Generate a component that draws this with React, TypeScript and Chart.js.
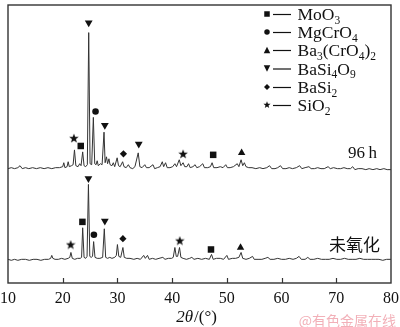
import React, { useEffect, useRef } from "react";
import { Chart, registerables } from "chart.js";

Chart.register(...registerables);

// ---------- data ----------
const xMin = 10;
const xMax = 80;
const xTickValues = [10, 20, 30, 40, 50, 60, 70, 80];
const yMin = 0;
const yMax = 282;

// 96 h oxidised sample (offset pattern, arbitrary intensity units)
const trace96h: [number, number][] = [
  [10.0, 116], [10.6, 117], [11.2, 116], [11.8, 117], [12.2, 119], [12.6, 116], [13.2, 117], [13.8, 116],
  [14.5, 117], [15.2, 116], [15.9, 117], [16.6, 116], [17.3, 117], [18.0, 116], [18.7, 117], [19.4, 117],
  [20.0, 118], [20.2, 122], [20.4, 117], [20.8, 118], [21.0, 123], [21.2, 118], [21.6, 119], [21.9, 120],
  [22.15, 135], [22.4, 119], [22.8, 118], [23.1, 121], [23.35, 119], [23.65, 133], [23.9, 119], [24.2, 118],
  [24.5, 120], [24.75, 254], [25.0, 121], [25.3, 120], [25.6, 168], [25.85, 121], [26.1, 120], [26.3, 124],
  [26.5, 119], [26.9, 121], [27.2, 120], [27.55, 153], [27.75, 122], [28.0, 128], [28.2, 121], [28.45, 126],
  [28.65, 120], [29.0, 119], [29.25, 122], [29.5, 118], [29.95, 127], [30.2, 119], [30.5, 118], [30.95, 123],
  [31.2, 118], [31.6, 117], [32.0, 120], [32.3, 117], [32.8, 116], [33.2, 118], [33.8, 132], [34.1, 118],
  [34.5, 117], [35.0, 120], [35.3, 117], [35.8, 117], [36.5, 120], [36.8, 116], [37.3, 117], [37.8, 118],
  [38.2, 123], [38.45, 118], [38.8, 122], [39.1, 117], [39.6, 117], [40.1, 118], [40.5, 121], [40.8, 118],
  [41.3, 125], [41.6, 119], [42.0, 122], [42.3, 118], [42.7, 118], [43.0, 121], [43.3, 117], [43.8, 118],
  [44.2, 120], [44.5, 117], [45.0, 118], [45.6, 121], [45.9, 117], [46.5, 117], [47.0, 118], [47.3, 122],
  [47.6, 117], [48.2, 117], [48.8, 118], [49.3, 117], [49.8, 120], [50.1, 117], [50.6, 117], [51.2, 118],
  [51.9, 121], [52.2, 118], [52.6, 125], [52.9, 119], [53.2, 122], [53.5, 118], [54.0, 117], [54.6, 117],
  [55.3, 116], [56.0, 117], [56.6, 116], [57.3, 117], [57.8, 119], [58.2, 116], [58.8, 116], [59.3, 117],
  [59.8, 119], [60.2, 116], [60.8, 116], [61.4, 117], [62.0, 116], [62.7, 117], [63.3, 119], [63.7, 116],
  [64.3, 117], [65.0, 118], [65.4, 116], [66.0, 116], [66.6, 117], [67.2, 116], [67.8, 116], [68.5, 118],
  [68.9, 116], [69.5, 117], [70.2, 116], [70.8, 116], [71.4, 117], [72.0, 116], [72.6, 116], [73.0, 118],
  [73.4, 115], [74.0, 116], [74.7, 116], [75.4, 115], [76.0, 116], [76.7, 115], [77.4, 116], [78.0, 115],
  [78.7, 116], [79.3, 115], [80.0, 115],
];

// un-oxidised sample
const traceUnoxidized: [number, number][] = [
  [10.0, 24], [10.6, 23], [11.2, 24], [11.8, 23], [12.5, 24], [13.2, 24], [13.9, 23], [14.6, 24],
  [15.3, 24], [16.0, 23], [16.7, 24], [17.4, 24], [17.8, 25], [18.0, 28], [18.2, 25], [18.6, 24],
  [19.2, 24], [19.8, 25], [20.4, 24], [21.0, 25], [21.3, 26], [21.5, 31], [21.75, 25], [22.2, 24],
  [22.7, 25], [23.2, 25], [23.45, 26], [23.65, 56], [23.9, 26], [24.2, 25], [24.45, 27], [24.7, 100],
  [24.95, 27], [25.2, 26], [25.45, 27], [25.65, 42], [25.9, 26], [26.3, 25], [26.8, 25], [27.3, 26],
  [27.6, 55], [27.85, 26], [28.2, 25], [28.6, 26], [29.0, 25], [29.5, 26], [29.8, 28], [30.0, 39],
  [30.25, 27], [30.6, 26], [31.0, 36], [31.25, 26], [31.7, 25], [32.3, 25], [33.0, 24], [33.6, 25],
  [34.2, 24], [34.8, 28], [35.1, 25], [35.5, 28], [35.8, 24], [36.4, 25], [37.0, 24], [37.6, 25],
  [38.3, 26], [38.7, 24], [39.3, 25], [39.9, 25], [40.2, 26], [40.5, 36], [40.75, 27], [41.0, 27],
  [41.35, 36], [41.6, 26], [42.0, 25], [42.6, 24], [43.2, 25], [43.6, 26], [44.0, 24], [44.7, 25],
  [45.4, 24], [46.1, 25], [46.8, 24], [47.2, 29], [47.5, 24], [48.1, 25], [48.8, 25], [49.4, 24],
  [50.0, 28], [50.3, 24], [51.0, 25], [51.6, 25], [52.2, 26], [52.6, 31], [52.9, 25], [53.5, 24],
  [54.1, 25], [54.7, 27], [55.0, 24], [55.7, 24], [56.4, 24], [57.0, 25], [57.5, 26], [57.9, 24],
  [58.6, 24], [59.3, 25], [60.0, 24], [60.7, 24], [61.4, 25], [62.1, 24], [62.7, 25], [63.2, 27],
  [63.6, 24], [64.3, 24], [64.8, 26], [65.2, 24], [65.9, 24], [66.6, 25], [67.3, 24], [68.0, 24],
  [68.7, 24], [69.4, 25], [70.1, 24], [70.8, 24], [71.5, 25], [72.2, 24], [72.9, 24], [73.6, 24],
  [74.3, 25], [75.0, 24], [75.7, 24], [76.4, 24], [77.1, 24], [77.8, 24], [78.5, 23], [79.2, 24],
  [80.0, 24],
];

// phase markers (2θ, height at which the symbol sits)
const marksMoO3: [number, number][] = [[23.3, 139], [47.5, 130], [23.6, 62], [47.1, 34]];
const marksMgCrO4: [number, number][] = [[26.0, 174], [25.7, 49]];
const marksBa3CrO42: [number, number][] = [[52.7, 132], [52.5, 36]];
const marksBaSi4O9: [number, number][] = [[24.75, 264], [27.7, 160], [33.9, 141], [24.7, 106], [27.7, 63]];
const marksBaSi2: [number, number][] = [[31.1, 131], [31.0, 45]];
const marksSiO2: [number, number][] = [[22.05, 147], [42.0, 131], [21.45, 39], [41.4, 43]];

// legend labels: [text, isSubscript]
const legendMoO3: [string, boolean][] = [["MoO", false], ["3", true]];
const legendMgCrO4: [string, boolean][] = [["MgCrO", false], ["4", true]];
const legendBa3CrO42: [string, boolean][] = [["Ba", false], ["3", true], ["(CrO", false], ["4", true], [")", false], ["2", true]];
const legendBaSi4O9: [string, boolean][] = [["BaSi", false], ["4", true], ["O", false], ["9", true]];
const legendBaSi2: [string, boolean][] = [["BaSi", false], ["2", true]];
const legendSiO2: [string, boolean][] = [["SiO", false], ["2", true]];

const label96h = "96\u2009h";
const labelUnox = "未氧化";
const watermark = "@有色金属在线";

// ---------- helpers ----------
type Kind = "square" | "circle" | "up" | "down" | "diamond" | "star";

function starPath(g: CanvasRenderingContext2D, cx: number, cy: number, R: number, r: number) {
  g.beginPath();
  for (let i = 0; i < 10; i++) {
    const rad = i % 2 === 0 ? R : r;
    const a = -Math.PI / 2 + (i * Math.PI) / 5;
    const px = cx + rad * Math.cos(a);
    const py = cy + rad * Math.sin(a);
    if (i === 0) g.moveTo(px, py);
    else g.lineTo(px, py);
  }
  g.closePath();
}

function makeStar(size: number, color: string) {
  const c = document.createElement("canvas");
  c.width = size;
  c.height = size;
  const g = c.getContext("2d")!;
  starPath(g, size / 2, size / 2 + 0.4, size / 2, (size / 2) * 0.42);
  g.fillStyle = color;
  g.fill();
  return c;
}

function drawMarker(g: CanvasRenderingContext2D, kind: Kind, x: number, y: number, s: number) {
  g.beginPath();
  if (kind === "square") {
    g.rect(x - s / 2, y - s / 2, s, s);
  } else if (kind === "circle") {
    g.arc(x, y, s / 2, 0, Math.PI * 2);
  } else if (kind === "up") {
    g.moveTo(x, y - s / 2);
    g.lineTo(x + s / 2, y + s / 2);
    g.lineTo(x - s / 2, y + s / 2);
    g.closePath();
  } else if (kind === "down") {
    g.moveTo(x - s / 2, y - s / 2);
    g.lineTo(x + s / 2, y - s / 2);
    g.lineTo(x, y + s / 2);
    g.closePath();
  } else if (kind === "diamond") {
    g.moveTo(x, y - s / 2);
    g.lineTo(x + s / 2, y);
    g.lineTo(x, y + s / 2);
    g.lineTo(x - s / 2, y);
    g.closePath();
  } else {
    starPath(g, x, y, s / 2, (s / 2) * 0.42);
  }
  g.fill();
}

const INK = "#111";
const SERIF = "'Liberation Serif', 'Times New Roman', serif";

export default function App() {
  const ref = useRef<HTMLCanvasElement | null>(null);

  useEffect(() => {
    const canvas = ref.current;
    if (!canvas) return;
    const star = makeStar(10, INK);

    const legendRows: { kind: Kind; parts: [string, boolean][] }[] = [
      { kind: "square", parts: legendMoO3 },
      { kind: "circle", parts: legendMgCrO4 },
      { kind: "up", parts: legendBa3CrO42 },
      { kind: "down", parts: legendBaSi4O9 },
      { kind: "diamond", parts: legendBaSi2 },
      { kind: "star", parts: legendSiO2 },
    ];

    const decor = {
      id: "decor",
      afterDraw(chart: any) {
        const g: CanvasRenderingContext2D = chart.ctx;
        const { left, right, top, bottom } = chart.chartArea;
        const xs = chart.scales.x;
        g.save();
        // frame
        g.strokeStyle = "#333";
        g.lineWidth = 1.4;
        g.strokeRect(left, top, right - left, bottom - top);
        // inward ticks
        g.lineWidth = 1.2;
        for (const v of xTickValues) {
          if (v === xMin || v === xMax) continue;
          const px = Math.round(xs.getPixelForValue(v)) + 0.5;
          g.beginPath();
          g.moveTo(px, bottom);
          g.lineTo(px, bottom - 5);
          g.stroke();
        }
        // legend
        const rowY = [14, 32, 50, 68.5, 87, 105];
        const mSize: Record<Kind, number> = { square: 5.5, circle: 5.5, up: 6.5, down: 6.5, diamond: 6, star: 7.5 };
        g.fillStyle = INK;
        g.strokeStyle = INK;
        legendRows.forEach((row, i) => {
          const y = rowY[i];
          drawMarker(g, row.kind, 267, y, mSize[row.kind]);
          g.lineWidth = 1.2;
          g.beginPath();
          g.moveTo(273, y + 0.5);
          g.lineTo(291, y + 0.5);
          g.stroke();
          let x = 297.5;
          g.textAlign = "left";
          g.textBaseline = "alphabetic";
          for (const [t, sub] of row.parts) {
            g.font = sub ? `11.5px ${SERIF}` : `17.5px ${SERIF}`;
            g.fillText(t, x, sub ? y + 9.5 : y + 6);
            x += g.measureText(t).width;
          }
        });
        // sample labels
        g.font = `17px ${SERIF}`;
        g.textAlign = "right";
        g.textBaseline = "alphabetic";
        g.fillText(label96h, 377, 158);
        g.font = `17px 'Noto Sans CJK SC', sans-serif`;
        g.textBaseline = "middle";
        g.fillText(labelUnox, 380, 245);
        // axis title 2θ/(°)
        g.textBaseline = "alphabetic";
        g.textAlign = "left";
        const it = `italic 17px ${SERIF}`;
        const rm = `17px ${SERIF}`;
        g.font = it;
        const w1 = g.measureText("2θ").width;
        g.font = rm;
        const w2 = g.measureText("/(°)").width;
        const tx = 196 - (w1 + w2) / 2;
        g.font = it;
        g.fillText("2θ", tx, 322);
        g.font = rm;
        g.fillText("/(°)", tx + w1 + 1, 322);
        // watermark
        g.font = `14px 'Noto Sans CJK SC', sans-serif`;
        g.fillStyle = "rgba(238,150,160,0.75)";
        g.textAlign = "right";
        g.textBaseline = "middle";
        g.fillText(watermark, 396, 321);
        g.restore();
      },
    };

    const toXY = (arr: [number, number][]) => arr.map(([x, y]) => ({ x, y }));
    const markerSet = (data: [number, number][], style: any, radius: number, rotation = 0) => ({
      type: "scatter" as const,
      data: toXY(data),
      pointStyle: style,
      pointRadius: radius,
      pointHoverRadius: radius,
      pointRotation: rotation,
      backgroundColor: INK,
      borderColor: INK,
      borderWidth: 0,
      showLine: false,
    });

    const chart = new Chart(canvas, {
      type: "scatter",
      data: {
        datasets: [
          markerSet(marksMoO3, "rect", 4.6),
          markerSet(marksMgCrO4, "circle", 3.3),
          markerSet(marksBa3CrO42, "triangle", 4.3),
          markerSet(marksBaSi4O9, "triangle", 4.5, 180),
          markerSet(marksBaSi2, "rectRot", 3.6),
          markerSet(marksSiO2, star, 5),
          {
            type: "scatter",
            data: toXY(trace96h),
            showLine: true,
            borderColor: "#333",
            borderWidth: 1,
            pointRadius: 0,
            tension: 0,
          } as any,
          {
            type: "scatter",
            data: toXY(traceUnoxidized),
            showLine: true,
            borderColor: "#333",
            borderWidth: 1,
            pointRadius: 0,
            tension: 0,
          } as any,
        ] as any,
      },
      options: {
        responsive: false,
        animation: false,
        events: [],
        layout: { padding: { left: 8, right: 9, top: 1, bottom: 0 } },
        plugins: { legend: { display: false }, tooltip: { enabled: false }, title: { display: false } },
        scales: {
          x: {
            type: "linear",
            min: xMin,
            max: xMax,
            afterBuildTicks: (scale: any) => {
              scale.ticks = xTickValues.map((v) => ({ value: v }));
            },
            afterFit: (scale: any) => {
              scale.height = 44;
              scale.paddingLeft = 0;
              scale.paddingRight = 0;
            },
            grid: { display: false, drawTicks: false },
            border: { display: false },
            ticks: {
              color: INK,
              font: { family: SERIF, size: 16 },
              padding: 6,
              maxRotation: 0,
              autoSkip: false,
            },
          },
          y: {
            type: "linear",
            min: yMin,
            max: yMax,
            display: false,
          },
        },
      },
      plugins: [decor],
    } as any);

    return () => chart.destroy();
  }, []);

  return (
    <div style={{ position: "absolute", left: 0, top: 0, width: 400, height: 327, background: "#fff" }}>
      <canvas ref={ref} width={400} height={327} style={{ display: "block", width: 400, height: 327 }} />
    </div>
  );
}
